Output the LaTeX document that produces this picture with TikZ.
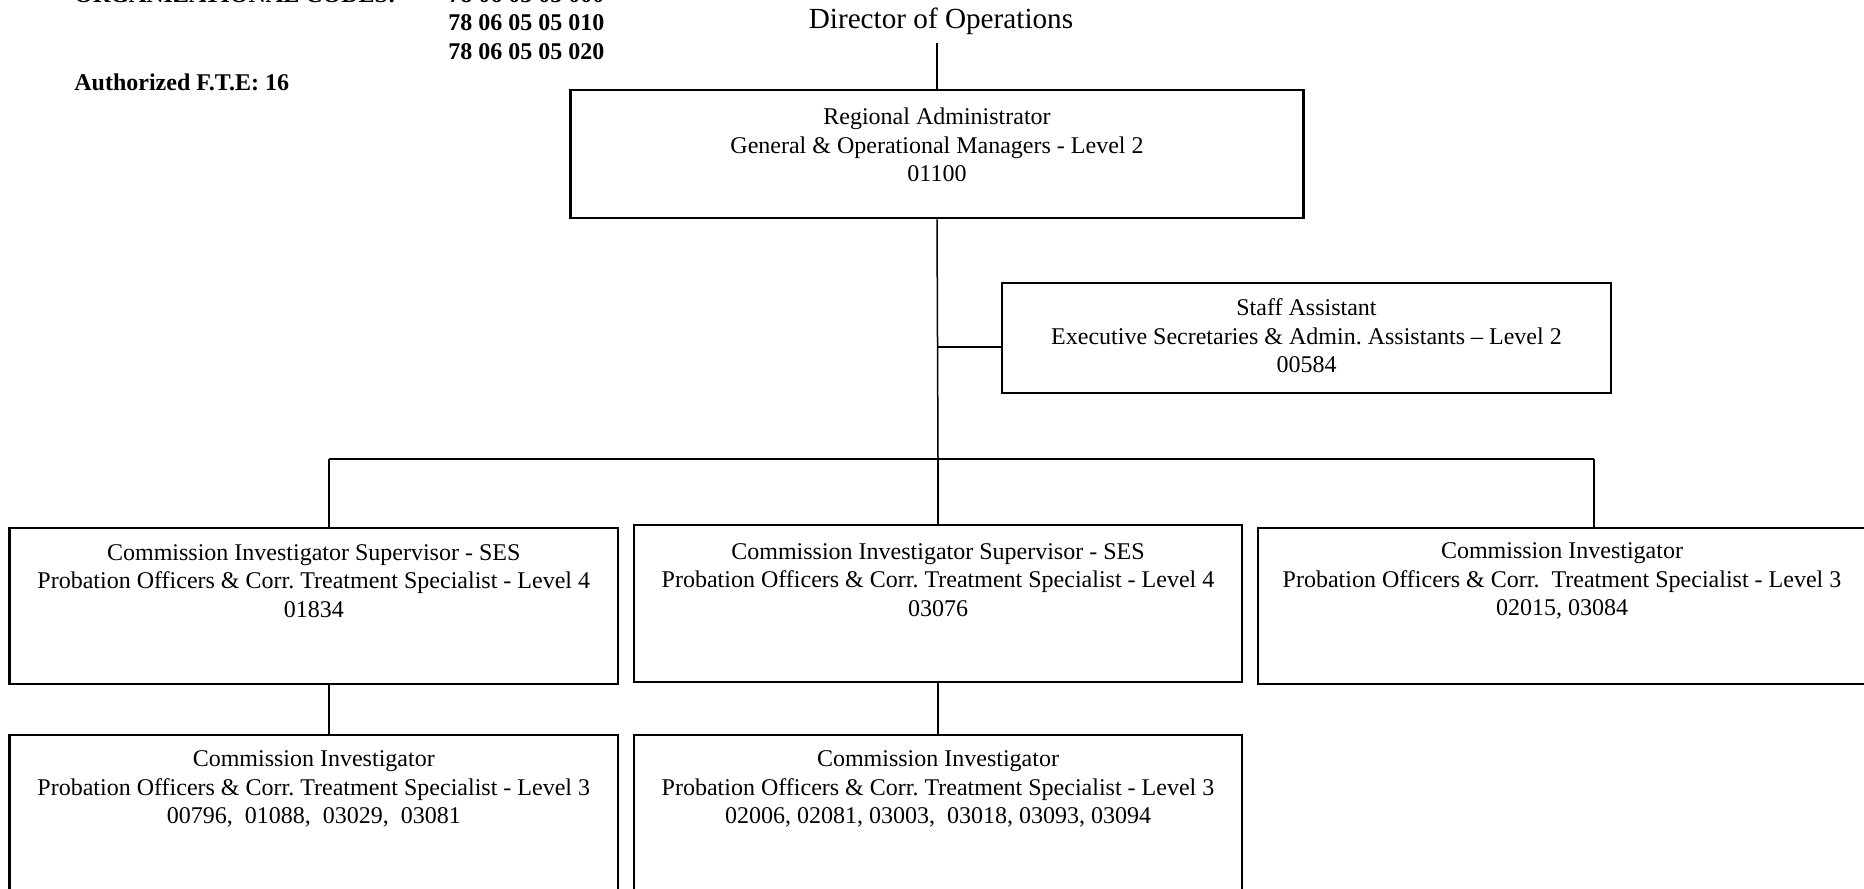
\documentclass[tikz,border=0pt]{standalone}
\usepackage{fontspec}
\setmainfont{Liberation Serif}
\frenchspacing
\begin{document}
\begin{tikzpicture}[x=0.5pt,y=-0.5pt,
  frame/.style={draw, line width=1.3pt, inner sep=0pt},
  lbl/.style={align=center, inner sep=0pt, font=\fontsize{12pt}{14.25pt}\selectfont},
  hdr/.style={font=\bfseries\fontsize{12pt}{14pt}\selectfont, inner sep=0pt, anchor=base west},
  conn/.style={line width=0.75pt}]
\useasboundingbox (0,0) rectangle (1864,889);
\clip (0,0) rectangle (1864,889);

% header texts
\node[hdr] (org) at (74,2) {ORGANIZATIONAL CODES:};
\node[hdr] (c0) at (448,2) {78 06 05 05 000};
\node[hdr] (c1) at (448,30) {78 06 05 05 010};
\node[hdr] (c2) at (448,59) {78 06 05 05 020};
\node[hdr] (fte) at (74,90) {Authorized F.T.E: 16};

\node[font=\fontsize{14.6pt}{17pt}\selectfont, anchor=base, inner sep=0pt] (dir) at (941,28.5) {Director of Operations};
\coordinate (dirb) at (937,43);

% boxes
\node[frame, minimum width=366.5pt, minimum height=64pt] (ra) at (937,154) {};
\node[lbl] (rat) at (937,145) {Regional Administrator\\General \& Operational Managers - Level 2\\01100};

\node[frame, minimum width=304.5pt, minimum height=55pt] (sa) at (1306.5,338) {};
\node[lbl] (sat) at (1306.5,336) {Staff Assistant\\Executive Secretaries \& Admin. Assistants -- Level 2\\00584};

\node[frame, minimum width=304.25pt, minimum height=78pt] (a) at (313.75,606) {};
\node[lbl] (at) at (313.75,581) {Commission Investigator Supervisor - SES\\Probation Officers \& Corr. Treatment Specialist - Level 4\\01834};

\node[frame, minimum width=304pt, minimum height=78.5pt] (b) at (938,603.5) {};
\node[lbl] (bt) at (938,580) {Commission Investigator Supervisor - SES\\Probation Officers \& Corr. Treatment Specialist - Level 4\\03076};

\node[frame, minimum width=304pt, minimum height=78pt] (c) at (1562,606) {};
\node[lbl] (ct) at (1562,581) {Commission Investigator\\Probation Officers \& Corr.\ \ Treatment Specialist - Level 3\\02015, 03084};

\node[frame, minimum width=304.25pt, minimum height=80pt] (d) at (313.75,815) {};
\node[lbl] (dt) at (313.75,789) {Commission Investigator\\Probation Officers \& Corr. Treatment Specialist - Level 3\\00796,\ \ 01088,\ \ 03029,\ \ 03081};

\node[frame, minimum width=304pt, minimum height=80pt] (e) at (938,815) {};
\node[lbl] (et) at (938,789) {Commission Investigator\\Probation Officers \& Corr. Treatment Specialist - Level 3\\02006, 02081, 03003,\ \ 03018, 03093, 03094};

% junctions
\coordinate (ja) at (329,459);
\coordinate (jb) at (938,459);
\coordinate (jc) at (1594,459);
\coordinate (sj) at (938,347);

% connectors
\draw[conn] (dirb) -- (ra.north);
\draw[conn] (ra.south) -- (jb);
\draw[conn] (sj) -- (sj -| sa.west);
\draw[conn] (ja) -- (jc);
\draw[conn] (ja) -- (ja |- a.north);
\draw[conn] (jb) -- (b.north);
\draw[conn] (jc) -- (jc |- c.north);
\draw[conn] (ja |- a.south) -- (ja |- d.north);
\draw[conn] (b.south) -- (e.north);
\end{tikzpicture}
\end{document}
